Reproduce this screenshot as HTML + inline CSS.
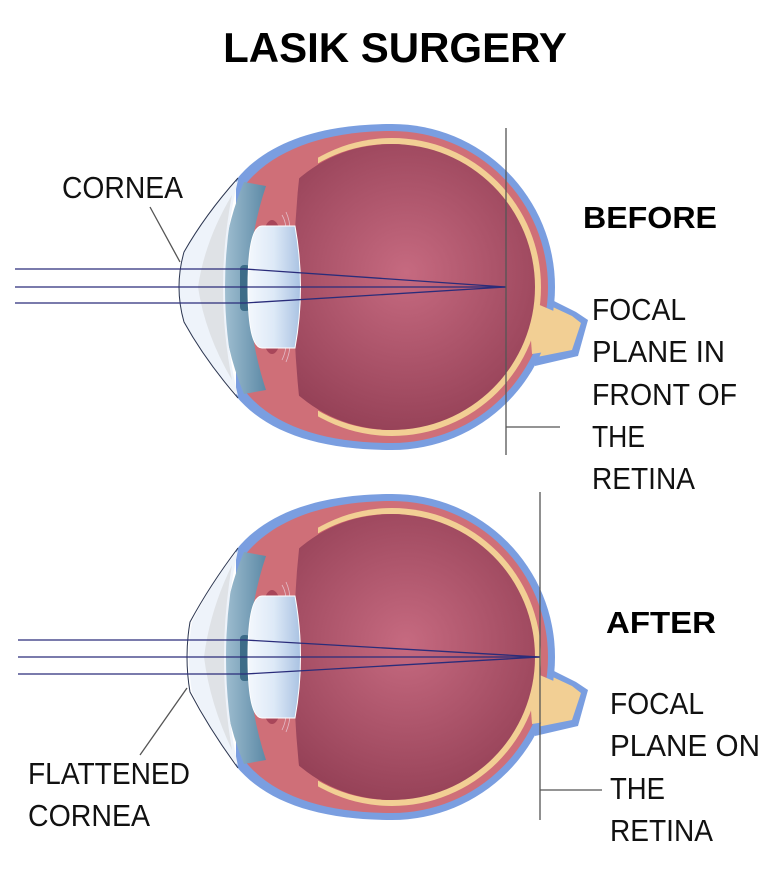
<!DOCTYPE html>
<html><head><meta charset="utf-8"><style>
html,body{margin:0;padding:0;background:#fff;}
svg{display:block}
text{font-family:"Liberation Sans",sans-serif;}
</style></head><body>
<svg width="780" height="876" viewBox="0 0 780 876" xmlns="http://www.w3.org/2000/svg">
<defs>
<radialGradient id="vit" cx="0.55" cy="0.45" r="0.6">
<stop offset="0" stop-color="#c66a80"/><stop offset="1" stop-color="#933f55"/></radialGradient>
<linearGradient id="lens" x1="0" x2="1"><stop offset="0" stop-color="#f4f8fd"/><stop offset="0.5" stop-color="#dde9f7"/><stop offset="1" stop-color="#a9c2e2"/></linearGradient>
<linearGradient id="ch" x1="0" x2="1"><stop offset="0" stop-color="#a3c1d3"/><stop offset="1" stop-color="#5d8aa6"/></linearGradient>
<clipPath id="back"><rect x="318" y="0" width="400" height="600"/></clipPath>
<clipPath id="vclip"><path d="M305 130 Q282 287 305 445 L700 445 L700 130 Z"/></clipPath>
<g id="eye">
 <path d="M528 288 L576 312 L588 320 L578 356 L535 366 Z" fill="#7a9ee0"/>
 <path d="M525 294 L572 316 L581 323 L572 350 L532 358 Z" fill="#f2cf94"/>
 <path d="M236 180 C268 140 325 124 392 124 A163 163 0 0 1 392 450 C325 450 268 435 236 396 Z" fill="#7a9ee0"/>
 <path d="M244 186 C274 148 328 131 392 131 A156 156 0 0 1 392 443 C328 443 274 428 244 390 Z" fill="#cf6f78"/>
 <circle cx="392" cy="287" r="149" fill="#f2cf94" clip-path="url(#back)"/>
 <path d="M528 300 L570 318 L578 324 L570 348 L532 354 Z" fill="#f2cf94"/>
 <circle cx="390" cy="287" r="143" fill="#c85e6c" clip-path="url(#back)"/>
 <circle cx="392" cy="287" r="143" fill="url(#vit)" clip-path="url(#vclip)"/>
 <ellipse cx="272" cy="252" rx="11" ry="32" fill="#a8465a"/>
 <ellipse cx="272" cy="322" rx="11" ry="32" fill="#a8465a"/>
 <g stroke="#e8d0dc" stroke-width="0.8" fill="none" opacity="0.8">
  <path d="M282 215 Q288 225 285 240"/><path d="M286 212 Q292 225 289 240"/>
  <path d="M282 360 Q288 348 285 335"/><path d="M286 362 Q292 348 289 335"/>
 </g>
 <path d="M244 182 Q200 287 244 394 L266 390 Q232 287 266 186 Z" fill="url(#ch)"/>
 <rect x="240" y="265" width="10" height="46" rx="4" fill="#3d6c88"/>
 <path d="M262 226 Q248 226 248 287 Q248 348 262 348 L295 348 Q306 287 295 226 Z" fill="url(#lens)" stroke="#fff" stroke-width="1"/>
</g>
</defs>

<text x="395" y="62" text-anchor="middle" font-size="42" font-weight="bold" fill="#000">LASIK SURGERY</text>

<use href="#eye"/>
<path d="M238 180 Q205 215 184 252 Q174 287 184 322 Q205 360 238 396 Q212 287 238 180 Z" fill="#eef3fa"/>
<path d="M232 195 Q205 240 198 287 Q205 334 232 380 Q214 287 232 195 Z" fill="#dfe2e6"/>
<path d="M238 178 Q205 215 184 252 Q174 287 184 322 Q205 360 238 398" fill="none" stroke="#2b3550" stroke-width="1"/>
<g stroke="#2a2c7a" stroke-width="1.3" fill="none">
<line x1="15" y1="269" x2="245" y2="269"/><line x1="245" y1="269" x2="506" y2="287"/>
<line x1="15" y1="287" x2="506" y2="287"/>
<line x1="15" y1="303" x2="245" y2="303"/><line x1="245" y1="303" x2="506" y2="287"/>
</g>
<g stroke="#555" stroke-width="1.3">
<line x1="506" y1="128" x2="506" y2="455"/><line x1="506" y1="427" x2="560" y2="427"/>
<line x1="150" y1="207" x2="180" y2="262"/>
</g>
<g font-size="31" fill="#111">
<text x="62" y="198" textLength="121" lengthAdjust="spacingAndGlyphs">CORNEA</text>
<text x="592" y="320" textLength="94" lengthAdjust="spacingAndGlyphs">FOCAL</text>
<text x="592" y="362" textLength="133" lengthAdjust="spacingAndGlyphs">PLANE IN</text>
<text x="592" y="405" textLength="145" lengthAdjust="spacingAndGlyphs">FRONT OF</text>
<text x="592" y="447" textLength="53" lengthAdjust="spacingAndGlyphs">THE</text>
<text x="592" y="489" textLength="103" lengthAdjust="spacingAndGlyphs">RETINA</text>
</g>
<text x="583" y="228" font-size="31" font-weight="bold" fill="#000" textLength="134" lengthAdjust="spacingAndGlyphs">BEFORE</text>

<g transform="translate(0,370)">
<use href="#eye"/>
<path d="M238 180 Q210 215 192 252 Q186 287 192 322 Q210 360 238 396 Q214 287 238 180 Z" fill="#eef3fa"/>
<path d="M232 195 Q210 240 204 287 Q210 334 232 380 Q216 287 232 195 Z" fill="#dfe2e6"/>
<path d="M238 178 Q210 215 190 252 Q184 287 190 322 Q210 360 238 398" fill="none" stroke="#2b3550" stroke-width="1"/>
</g>
<g stroke="#2a2c7a" stroke-width="1.3" fill="none">
<line x1="18" y1="640" x2="245" y2="640"/><line x1="245" y1="640" x2="540" y2="657"/>
<line x1="18" y1="657" x2="540" y2="657"/>
<line x1="18" y1="674" x2="245" y2="674"/><line x1="245" y1="674" x2="540" y2="657"/>
</g>
<g stroke="#555" stroke-width="1.3">
<line x1="540" y1="492" x2="540" y2="820"/><line x1="540" y1="790" x2="602" y2="790"/>
<line x1="140" y1="755" x2="187" y2="688"/>
</g>
<text x="606" y="633" font-size="31" font-weight="bold" fill="#000" textLength="110" lengthAdjust="spacingAndGlyphs">AFTER</text>
<g font-size="31" fill="#111">
<text x="610" y="714" textLength="94" lengthAdjust="spacingAndGlyphs">FOCAL</text>
<text x="610" y="756" textLength="150" lengthAdjust="spacingAndGlyphs">PLANE ON</text>
<text x="610" y="799" textLength="55" lengthAdjust="spacingAndGlyphs">THE</text>
<text x="610" y="841" textLength="103" lengthAdjust="spacingAndGlyphs">RETINA</text>
<text x="28" y="784" textLength="162" lengthAdjust="spacingAndGlyphs">FLATTENED</text>
<text x="28" y="826" textLength="122" lengthAdjust="spacingAndGlyphs">CORNEA</text>
</g>
</svg>
</body></html>
